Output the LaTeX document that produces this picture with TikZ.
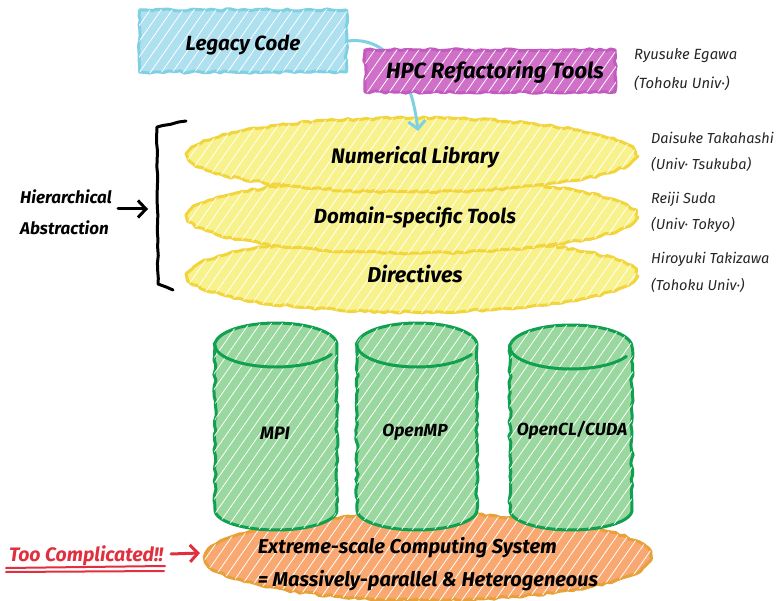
\documentclass[tikz,border=0pt]{standalone}
\usepackage{fontspec}
\setmainfont{Fira Sans}
\usetikzlibrary{decorations.pathmorphing,arrows.meta,patterns.meta,shapes.geometric}
\definecolor{lcfill}{HTML}{AEE0F0}
\definecolor{lcdraw}{HTML}{80D0E4}
\definecolor{hpcfill}{HTML}{D070C8}
\definecolor{hpcdraw}{HTML}{C25ABF}
\definecolor{yfill}{HTML}{F7F28C}
\definecolor{ydraw}{HTML}{F2D53C}
\definecolor{gfill}{HTML}{9AD8A0}
\definecolor{gdraw}{HTML}{10A050}
\definecolor{ofill}{HTML}{F8A870}
\definecolor{odraw}{HTML}{E8A038}
\definecolor{redtxt}{HTML}{E03040}
\newcommand\mycyl[4]{%
  \draw[sketch, hatch, fill=gfill, draw=gdraw, line width=3pt]
    (#1-#2,#3+22) -- (#1-#2,#4-20)
    -- plot[domain=180:0,samples=40,variable=\t] ({#1+#2*cos(\t)},{#4-20+20*sin(\t)})
    -- (#1+#2,#3+22)
    -- plot[domain=0:-180,samples=40,variable=\t] ({#1+#2*cos(\t)},{#3+22+22*sin(\t)})
    -- cycle;
  \draw[sketch, draw=gdraw, line width=3pt]
    plot[domain=180:25,samples=40,variable=\t] ({#1+#2*cos(\t)},{#3+22+22*sin(\t)});
}
\begin{document}
\begin{tikzpicture}[x=1pt,y=-1pt,
  sketch/.style={decorate,decoration={random steps,segment length=5pt,amplitude=1.2pt},line join=round,line cap=round},
  hatch/.style={postaction={pattern={Lines[angle=55,distance=9pt,line width=0.8pt]},pattern color=white}},
  lbl/.style={font=\fontsize{21}{24}\selectfont\bfseries\itshape,text=black,inner sep=0pt},
  who/.style={font=\fontsize{14.8}{17}\selectfont\itshape,anchor=west,text=black!85,inner sep=0pt},
  box/.style={rectangle,sketch,hatch,line width=3pt,inner sep=0pt},
  yell/.style={ellipse,sketch,hatch,fill=yfill,draw=ydraw,line width=3pt,minimum width=448pt,minimum height=74pt,inner sep=0pt},
  barb/.style={-{Straight Barb[length=8pt,width=17pt]},line width=3pt,line cap=round,line join=round}
]
\useasboundingbox (0,0) rectangle (777,601);
\fill[white] (0,0) rectangle (777,601);

% orange system ellipse
\node[ellipse,sketch,hatch,fill=ofill,draw=odraw,line width=3pt,minimum width=446pt,minimum height=86pt,inner sep=0pt] (ecs) at (428,557) {};
\node[lbl,align=left,font=\fontsize{20}{33}\selectfont\bfseries\itshape] (ecstext) at (428,564) {Extreme-scale Computing System\\= Massively-parallel \& Heterogeneous};

% cylinders
\mycyl{276}{61}{323}{530}
\mycyl{417}{60}{323}{530}
\mycyl{571}{61}{325}{530}
\node[lbl,font=\fontsize{18}{21}\selectfont\bfseries\itshape] (mpi) at (275,433) {MPI};
\node[lbl,font=\fontsize{17.5}{21}\selectfont\bfseries\itshape] (omp) at (415,432) {OpenMP};
\node[lbl,font=\fontsize{17.5}{21}\selectfont\bfseries\itshape] (ocl) at (572,430) {OpenCL/CUDA};

% yellow layers
\node[yell] (dir) at (412,275) {};
\node[yell] (dst) at (412,216) {};
\node[yell] (numlib) at (412,155) {};
\node[lbl] (numtxt) at (415,157) {Numerical Library};
\node[lbl,font=\fontsize{20.5}{24}\selectfont\bfseries\itshape] (dsttxt) at (415,217) {Domain-specific Tools};
\node[lbl,font=\fontsize{21.5}{24}\selectfont\bfseries\itshape] (dirtxt) at (415,274) {Directives};

% legacy code
\node[box,fill=lcfill,draw=lcdraw,minimum width=207pt,minimum height=62pt] (legacy) at (243,41) {};
\node[lbl,font=\fontsize{20.5}{24}\selectfont\bfseries\itshape] (legtxt) at (243,45) {Legacy Code};

% connector
\coordinate (arrowend) at (418,131);
\draw[barb,draw=lcdraw] (legacy.east) .. controls (390,36) and (412,78) .. (arrowend);

% HPC box
\node[box,fill=hpcfill,draw=hpcdraw,minimum width=250pt,minimum height=42pt] (hpc) at (490,71) {};
\node[lbl,font=\fontsize{22}{24}\selectfont\bfseries\itshape] (hpctxt) at (495,72) {HPC Refactoring Tools};

% names
\node[who] (n1a) at (634,56) {Ryusuke Egawa};
\node[who] (n1b) at (634,83) {(Tohoku Univ·)};
\node[who,font=\fontsize{14.5}{17}\selectfont\itshape] (n2a) at (651,138) {Daisuke Takahashi};
\node[who,font=\fontsize{14.5}{17}\selectfont\itshape] (n2b) at (651,164) {(Univ· Tsukuba)};
\node[who,font=\fontsize{14.5}{17}\selectfont\itshape] (n3a) at (651,199) {Reiji Suda};
\node[who,font=\fontsize{14.5}{17}\selectfont\itshape] (n3b) at (651,225) {(Univ· Tokyo)};
\node[who,font=\fontsize{14.5}{17}\selectfont\itshape] (n4a) at (651,259) {Hiroyuki Takizawa};
\node[who,font=\fontsize{14.5}{17}\selectfont\itshape] (n4b) at (651,285) {(Tohoku Univ·)};

% bracket
\draw[line width=3pt,line cap=round,line join=round,decorate,decoration={random steps,segment length=8pt,amplitude=0.6pt}]
  (186,121) -- (157,127) -- (158,284) -- (173,290);
\coordinate (brk) at (148,209);
\node[lbl,font=\fontsize{17}{31}\selectfont\bfseries\itshape,align=left] (ha) at (66,212) {Hierarchical\\Abstraction};
\draw[barb] (118,209) -- (brk);

% too complicated
\node[lbl,text=redtxt,font=\fontsize{19.5}{22}\selectfont\bfseries\itshape] (tc) at (86,556) {Too Complicated!!};
\draw[redtxt,line width=2pt,line cap=round] (6,568) -- (165,566);
\draw[redtxt,line width=2pt,line cap=round] (6,572) -- (164,571);
\coordinate (ecsleft) at (200,553);
\draw[barb,draw=redtxt] (171,554) -- (ecsleft);
\end{tikzpicture}
\end{document}
